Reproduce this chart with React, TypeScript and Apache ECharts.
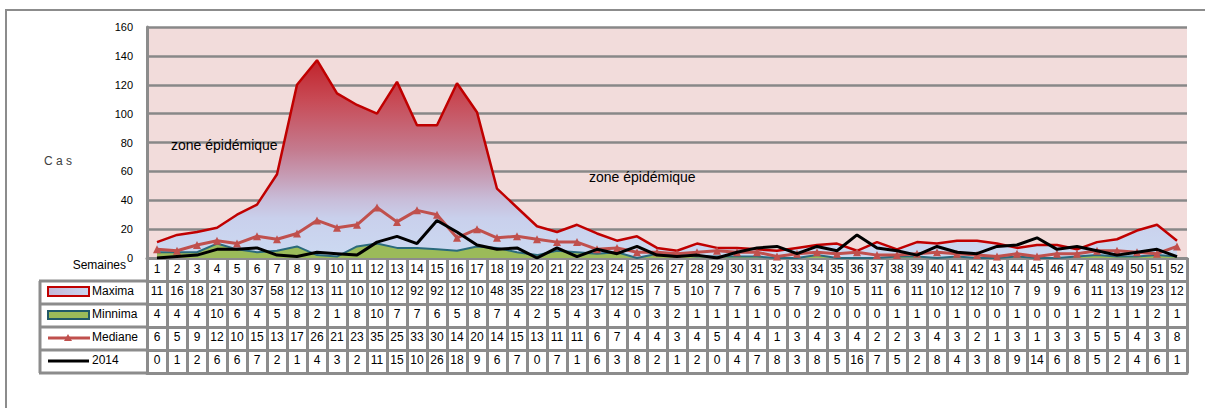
import React, { useEffect, useRef } from "react";
import * as echarts from "echarts";

// ---- data ----
const weeks = [
  "1","2","3","4","5","6","7","8","9","10","11","12","13","14","15","16","17","18","19","20",
  "21","22","23","24","25","26","27","28","29","30","31","32","33","34","35","36","37","38","39","40",
  "41","42","43","44","45","46","47","48","49","50","51","52",
];
const maxima = [
  11,16,18,21,30,37,58,120,137,114,106,100,122,92,92,121,101,48,35,22,
  18,23,17,12,15,7,5,10,7,7,6,5,7,9,10,5,11,6,11,10,
  12,12,10,7,9,9,6,11,13,19,23,12,
];
const minnima = [
  4,4,4,10,6,4,5,8,2,1,8,10,7,7,6,5,8,7,4,2,
  5,4,3,4,0,3,2,1,1,1,1,0,0,2,0,0,0,1,1,0,
  1,0,0,1,0,0,1,2,1,1,2,1,
];
const mediane = [
  6,5,9,12,10,15,13,17,26,21,23,35,25,33,30,14,20,14,15,13,
  11,11,6,7,4,4,3,4,5,4,4,1,3,4,3,4,2,2,3,4,
  3,2,1,3,1,3,3,5,5,4,3,8,
];
const y2014 = [
  0,1,2,6,6,7,2,1,4,3,2,11,15,10,26,18,9,6,7,0,
  7,1,6,3,8,2,1,2,0,4,7,8,3,8,5,16,7,5,2,8,
  4,3,8,9,14,6,8,5,2,4,6,1,
];
const rowNames = ["Maxima", "Minnima", "Mediane", "2014"];
const yTicks = { min: 0, max: 160, interval: 20 };

// table cells are narrow: three-digit values are clipped to two characters, as in the source
const cellText = (v: number) => String(v).slice(0, 2);

const GREY = "#8c8c8c";
const FONT = "'Liberation Sans', Arial, sans-serif";
const GRID_LEFT = 147;
const GRID_TOP = 27;
const GRID_RIGHT = 18;
const GRID_BOTTOM = 150;
const AXIS_Y = 408 - GRID_BOTTOM;
const ROW_H = 23;

export default function App() {
  const ref = useRef<HTMLDivElement>(null);
  useEffect(() => {
    if (!ref.current) return;
    const chart = echarts.init(ref.current, null, { renderer: "svg" });
    const rows = [maxima, minnima, mediane, y2014];

    const lineAxis = { show: true, onZero: false, lineStyle: { color: GREY, width: 3 } };
    const tick = { show: true, length: ROW_H, interval: 0, alignWithLabel: false, lineStyle: { color: GREY, width: 3 } };

    const xAxes: any[] = [
      {
        type: "category",
        data: weeks,
        boundaryGap: true,
        position: "bottom",
        axisLine: lineAxis,
        axisTick: tick,
        axisLabel: { interval: 0, margin: 5, fontSize: 12, color: "#000", fontFamily: FONT },
        splitLine: { show: false },
      },
      ...rows.map((r, k) => ({
        type: "category",
        data: weeks,
        boundaryGap: true,
        position: "bottom",
        offset: ROW_H * (k + 1),
        axisLine: lineAxis,
        axisTick: tick,
        axisLabel: {
          interval: 0,
          margin: 4,
          fontSize: 12,
          color: "#000",
          fontFamily: FONT,
          formatter: (_v: string, i: number) => cellText(r[i]),
        },
        splitLine: { show: false },
      })),
      {
        type: "category",
        data: weeks,
        boundaryGap: true,
        position: "bottom",
        offset: ROW_H * 5,
        axisLine: lineAxis,
        axisTick: { show: false },
        axisLabel: { show: false },
        splitLine: { show: false },
      },
    ];

    const legendTop = AXIS_Y + ROW_H;
    const graphic: any[] = [
      {
        type: "rect",
        shape: { x: 6, y: 10, width: 1260, height: 460 },
        style: { fill: "none", stroke: GREY, lineWidth: 2 },
        silent: true,
      },
      {
        type: "text",
        x: 44,
        y: 161,
        style: { text: "C a s", fontSize: 12, fontFamily: FONT, fill: "#404040", align: "left", verticalAlign: "middle", textAlign: "left", textVerticalAlign: "middle" },
      },
      {
        type: "text",
        x: 126,
        y: 265,
        style: { text: "Semaines", fontSize: 12, fontFamily: FONT, fill: "#000", align: "right", verticalAlign: "middle", textAlign: "right", textVerticalAlign: "middle" },
      },
      {
        type: "text",
        x: 171,
        y: 145,
        z: 1,
        style: { text: "zone épidémique", fontSize: 14, fontFamily: FONT, fill: "#000", align: "left", verticalAlign: "middle", textAlign: "left", textVerticalAlign: "middle" },
      },
      {
        type: "text",
        x: 589,
        y: 177,
        z: 1,
        style: { text: "zone épidémique", fontSize: 14, fontFamily: FONT, fill: "#000", align: "left", verticalAlign: "middle", textAlign: "left", textVerticalAlign: "middle" },
      },
      {
        type: "text",
        x: 351,
        y: 247,
        z: 1,
        style: { text: "Zone de sécurité", fontSize: 13, fontFamily: "'Liberation Serif', 'Times New Roman', serif", fill: "#1a1a1a", align: "left", verticalAlign: "middle", textAlign: "left", textVerticalAlign: "middle" },
      },
      // legend column borders
      {
        type: "line",
        shape: { x1: 40, y1: legendTop, x2: 40, y2: legendTop + ROW_H * 4 },
        style: { stroke: GREY, lineWidth: 3 },
      },
      ...[0, 1, 2, 3, 4].map((k) => ({
        type: "line",
        shape: { x1: 39, y1: legendTop + ROW_H * k, x2: GRID_LEFT, y2: legendTop + ROW_H * k },
        style: { stroke: GREY, lineWidth: 3 },
      })),
      ...rowNames.map((n, k) => ({
        type: "text",
        x: 92,
        y: legendTop + ROW_H * k + 10,
        style: { text: n, fontSize: 12, fontFamily: FONT, fill: "#000", align: "left", verticalAlign: "middle", textAlign: "left", textVerticalAlign: "middle" },
      })),
      // legend icons
      {
        type: "rect",
        shape: { x: 48, y: legendTop + 6, width: 41, height: 9 },
        style: {
          fill: new echarts.graphic.LinearGradient(0, 0, 1, 0, [
            { offset: 0, color: "#C4B8D8" },
            { offset: 1, color: "#C9D6F0" },
          ]),
          stroke: "#C00000",
          lineWidth: 2,
        },
      },
      {
        type: "rect",
        shape: { x: 48, y: legendTop + ROW_H + 7, width: 41, height: 8 },
        style: { fill: "#9BBB59", stroke: "#215968", lineWidth: 2 },
      },
      {
        type: "line",
        shape: { x1: 48, y1: legendTop + ROW_H * 2 + 11, x2: 90, y2: legendTop + ROW_H * 2 + 11 },
        style: { stroke: "#C0504D", lineWidth: 3 },
      },
      {
        type: "polygon",
        shape: { points: [[68, legendTop + ROW_H * 2 + 7], [72, legendTop + ROW_H * 2 + 14], [64, legendTop + ROW_H * 2 + 14]] },
        style: { fill: "#C0504D" },
      },
      {
        type: "line",
        shape: { x1: 48, y1: legendTop + ROW_H * 3 + 11, x2: 89, y2: legendTop + ROW_H * 3 + 11 },
        style: { stroke: "#000", lineWidth: 3 },
      },
    ];

    chart.setOption({
      animation: false,
      backgroundColor: "#fff",
      grid: {
        left: GRID_LEFT,
        right: GRID_RIGHT,
        top: GRID_TOP,
        bottom: GRID_BOTTOM,
        show: true,
        backgroundColor: "#F2DCDB",
        borderWidth: 0,
        containLabel: false,
      },
      xAxis: xAxes,
      yAxis: {
        type: "value",
        min: yTicks.min,
        max: yTicks.max,
        interval: yTicks.interval,
        axisLine: { show: true, lineStyle: { color: GREY, width: 3 } },
        axisTick: { show: false },
        axisLabel: { fontSize: 11, color: "#000", margin: 14, fontFamily: FONT },
        splitLine: { show: true, lineStyle: { color: "#888", width: 2.5 } },
      },
      series: [
        {
          name: "Maxima",
          type: "line",
          data: maxima,
          symbol: "none",
          lineStyle: { color: "#C00000", width: 2.5 },
          areaStyle: {
            opacity: 1,
            color: new echarts.graphic.LinearGradient(0, 0, 0, 1, [
              { offset: 0, color: "#C1232B" },
              { offset: 0.2, color: "#C84A55" },
              { offset: 0.45, color: "#C47A8E" },
              { offset: 0.6, color: "#C6A0B9" },
              { offset: 0.7, color: "#C8BCD8" },
              { offset: 0.8, color: "#C9D0EC" },
              { offset: 1, color: "#CCDAF2" },
            ]),
          },
          z: 2,
        },
        {
          name: "Minnima",
          type: "line",
          data: minnima,
          symbol: "none",
          lineStyle: { color: "#2B6A7C", width: 2 },
          areaStyle: { color: "#9BBB59", opacity: 1 },
          z: 3,
        },
        {
          name: "Mediane",
          type: "line",
          data: mediane,
          symbol: "triangle",
          symbolSize: 8,
          itemStyle: { color: "#C0504D" },
          lineStyle: { color: "#C0504D", width: 3 },
          z: 4,
        },
        {
          name: "2014",
          type: "line",
          data: y2014,
          symbol: "none",
          lineStyle: { color: "#000", width: 3 },
          z: 5,
        },
      ],
      graphic,
    });
    return () => chart.dispose();
  }, []);
  return <div ref={ref} style={{ position: "absolute", left: 0, top: 0, width: 1205, height: 408 }} />;
}
